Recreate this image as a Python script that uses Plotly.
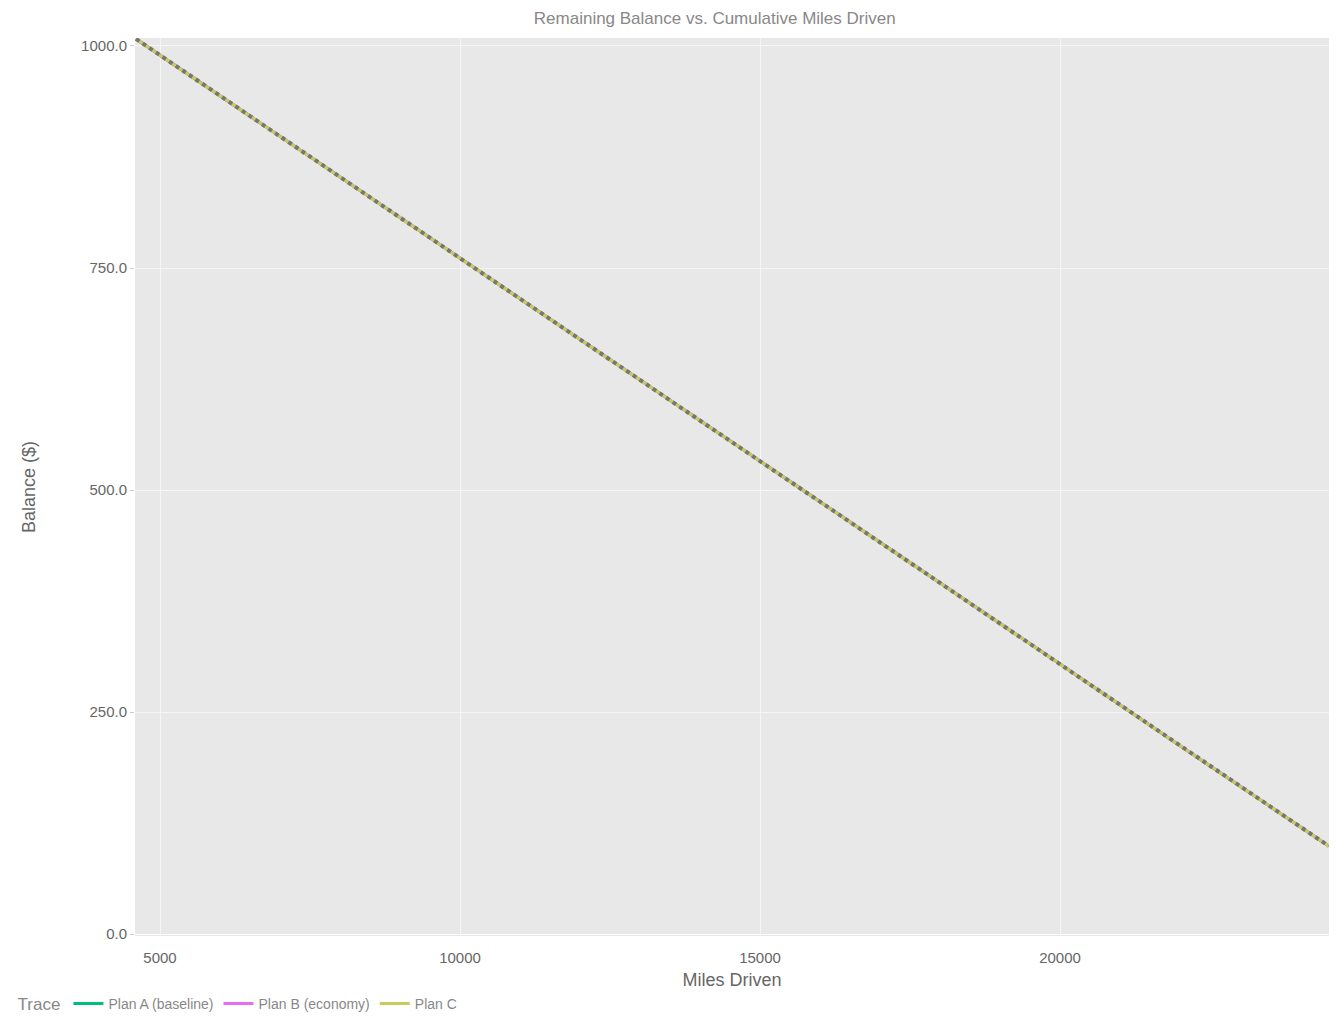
import plotly.graph_objects as go

# ---- data ----
miles = [4600, 6000, 8000, 10000, 12000, 14000, 16000, 18000, 20000, 22000, 24000, 24480]
plan_a = [1008, 944, 853, 761, 670, 578, 487, 395, 304, 212, 121, 99]
plan_b = [1008, 944, 853, 761, 670, 578, 487, 395, 304, 212, 121, 99]
plan_c = [1008, 944, 853, 761, 670, 578, 487, 395, 304, 212, 121, 99]
series_names = ["Plan A (baseline)", "Plan B (economy)", "Plan C"]
series_colors = ["#00BF7D", "#E76BF3", "#C9CC5A"]
x_ticks = [5000, 10000, 15000, 20000, 25000]
y_ticks = [0, 250, 500, 750, 1000]

fig = go.Figure()
for name, vals, col in zip(series_names, [plan_a, plan_b, plan_c], series_colors):
    fig.add_trace(go.Scatter(x=miles, y=vals, mode="lines", name=name,
                             line=dict(color=col, width=3)))
fig.add_trace(go.Scatter(x=miles, y=plan_c, mode="lines", showlegend=False,
                         hoverinfo="skip",
                         line=dict(color="#77776c", width=4, dash="dot")))

fig.update_layout(
    template="ggplot2",
    height=1013,
    paper_bgcolor="white",
    plot_bgcolor="rgb(232,232,232)",
    font=dict(family="Liberation Sans, Arial, sans-serif", size=15, color="#666"),
    title=dict(text="Remaining Balance vs. Cumulative Miles Driven",
               x=0.535, xanchor="center", y=0.996, yanchor="top",
               font=dict(size=17, color="#888")),
    margin=dict(l=127, r=0, t=30, b=81),
    legend=dict(orientation="h", x=-0.1, xanchor="left", y=-0.058, yanchor="top",
                title=dict(text="Trace"), font=dict(size=14, color="#888"),
                bgcolor="rgba(0,0,0,0)"),
    xaxis=dict(title=dict(text="Miles Driven", standoff=8), range=[4583, 24483],
               tickvals=x_ticks, tickformat="d", gridcolor="rgb(245,245,245)", showline=False,
               ticks="outside", ticklen=8, tickcolor="rgba(0,0,0,0)",
               tickfont=dict(size=15, color="#666")),
    yaxis=dict(title=dict(text="Balance ($)", standoff=40), range=[-2.24, 1009],
               tickvals=y_ticks, tickformat=".1f", gridcolor="rgb(245,245,245)",
               ticks="outside", ticklen=4, tickcolor="#ccc", tickfont=dict(size=15, color="#666")),
)

fig.write_html("out.html")
